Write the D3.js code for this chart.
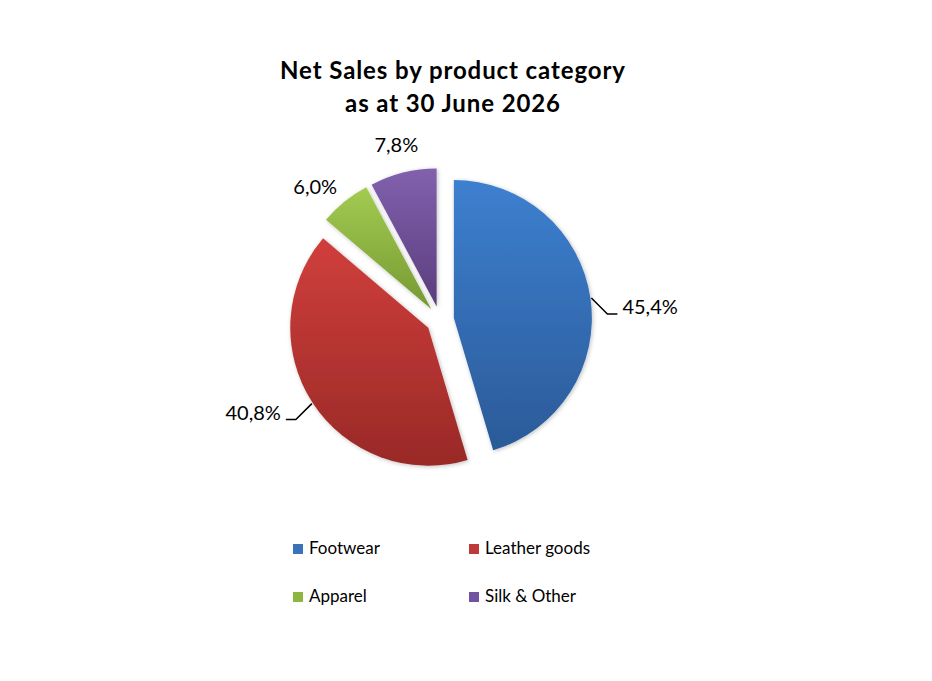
<!DOCTYPE html>
<html>
<head>
<meta charset="utf-8">
<script src="https://cdn.jsdelivr.net/npm/d3@7"></script>
<style>
  html, body { margin: 0; padding: 0; background: #fff; }
  svg { display: block; font-family: Lato, "Open Sans", sans-serif; }
</style>
</head>
<body>
<svg id="grafico" width="932" height="681"></svg>
<script>
// datos del grafico
var categorias = ['Footwear', 'Leather goods', 'Apparel', 'Silk & Other'];
var valores = [45.4, 40.8, 6.0, 7.8];
var etiquetas = ['45,4%', '40,8%', '6,0%', '7,8%'];
var tituloLineas = ['Net Sales by product category', 'as at 30 June 2026'];

var anchura = 932,
    altura = 681,
    centroX = 440,
    centroY = 320,
    radio = 138,
    separacion = 14;

// colores arriba / abajo del degradado
var coloresClaros = ['#3d80d0', '#d03f3c', '#a3cb52', '#8161ad'];
var coloresOscuros = ['#2b5a98', '#992927', '#769931', '#5a3d7d'];
var coloresLeyenda = ['#3a73b8', '#c0393a', '#8db640', '#7353a0'];

var svg = d3.select('#grafico');
var defs = svg.append('defs');

// sombra suave
var sombra = defs.append('filter').attr('id', 'sombra')
    .attr('x', '-10%').attr('y', '-10%').attr('width', '120%').attr('height', '120%');
sombra.append('feDropShadow')
    .attr('dx', 1).attr('dy', 1).attr('stdDeviation', 2)
    .attr('flood-color', '#000').attr('flood-opacity', 0.25);

categorias.forEach(function (c, i) {
    var grad = defs.append('linearGradient').attr('id', 'grad' + i)
        .attr('x1', 0).attr('y1', 0).attr('x2', 0).attr('y2', 1);
    grad.append('stop').attr('offset', '0%').attr('stop-color', coloresClaros[i]);
    grad.append('stop').attr('offset', '100%').attr('stop-color', coloresOscuros[i]);
});

// titulo
svg.append('g').selectAll('text')
    .data(tituloLineas)
    .join('text')
    .attr('x', 453)
    .attr('y', function (d, i) { return 79 + i * 33; })
    .attr('text-anchor', 'middle')
    .style('font-size', '24px')
    .style('font-weight', 'bold')
    .style('letter-spacing', '0.9px')
    .style('fill', '#000')
    .text(function (d) { return d; });

// tarta
var tarta = d3.pie().sort(null).value(function (d) { return d; });
var arco = d3.arc().innerRadius(0).outerRadius(radio);
var datos = tarta(valores);

function desplazamiento(d) {
    var a = (d.startAngle + d.endAngle) / 2;
    return [Math.sin(a) * separacion, -Math.cos(a) * separacion];
}

var g = svg.append('g')
    .attr('transform', 'translate(' + centroX + ',' + centroY + ')');

var porciones = g.selectAll('.arc')
    .data(datos)
    .join('g')
    .attr('class', 'arc')
    .attr('transform', function (d) { return 'translate(' + desplazamiento(d) + ')'; });

porciones.append('path')
    .attr('d', arco)
    .attr('filter', 'url(#sombra)')
    .style('fill', function (d, i) { return 'url(#grad' + i + ')'; });

// etiquetas con linea guia para las grandes
porciones.each(function (d, i) {
    var a = (d.startAngle + d.endAngle) / 2;
    var sx = Math.sin(a), sy = -Math.cos(a);
    var sel = d3.select(this);
    if (d.value > 20) {
        var p0 = [sx * (radio + 1), sy * (radio + 1)];
        var lado = sx > 0 ? 1 : -1;
        var p1 = [p0[0] + lado * 16, p0[1] + 16];
        var p2 = [p1[0] + lado * 10, p1[1]];
        sel.append('path')
            .attr('d', d3.line()([p0, p1, p2]))
            .style('fill', 'none')
            .style('stroke', '#000')
            .style('stroke-width', 1.5);
        sel.append('text')
            .attr('x', p2[0] + lado * 5)
            .attr('y', p2[1])
            .attr('text-anchor', lado > 0 ? 'start' : 'end')
            .style('font-size', '20px')
            .style('fill', '#000')
            .text(etiquetas[i]);
    } else if (Math.abs(sx) > 0.5) {
        // etiqueta de lado
        var rl = radio + 12;
        sel.append('text')
            .attr('x', sx * rl)
            .attr('y', sy * rl + 2)
            .attr('text-anchor', sx < 0 ? 'end' : 'start')
            .style('font-size', '20px')
            .style('fill', '#000')
            .text(etiquetas[i]);
    } else {
        var r = radio + 28;
        sel.append('text')
            .attr('x', sx * r)
            .attr('y', sy * r)
            .attr('dy', '0.35em')
            .attr('text-anchor', 'middle')
            .style('font-size', '20px')
            .style('fill', '#000')
            .text(etiquetas[i]);
    }
});

// leyenda
var leyenda = svg.append('g').selectAll('g')
    .data(categorias)
    .join('g')
    .attr('transform', function (d, i) {
        return 'translate(' + (293 + (i % 2) * 176) + ',' + (554 + Math.floor(i / 2) * 48) + ')';
    });
leyenda.append('rect')
    .attr('x', 0).attr('y', -10)
    .attr('width', 10).attr('height', 10)
    .style('fill', function (d, i) { return coloresLeyenda[i]; });
leyenda.append('text')
    .attr('x', 16)
    .attr('y', 0)
    .style('font-size', '17px')
    .style('fill', '#000')
    .text(function (d) { return d; });
</script>
</body>
</html>
